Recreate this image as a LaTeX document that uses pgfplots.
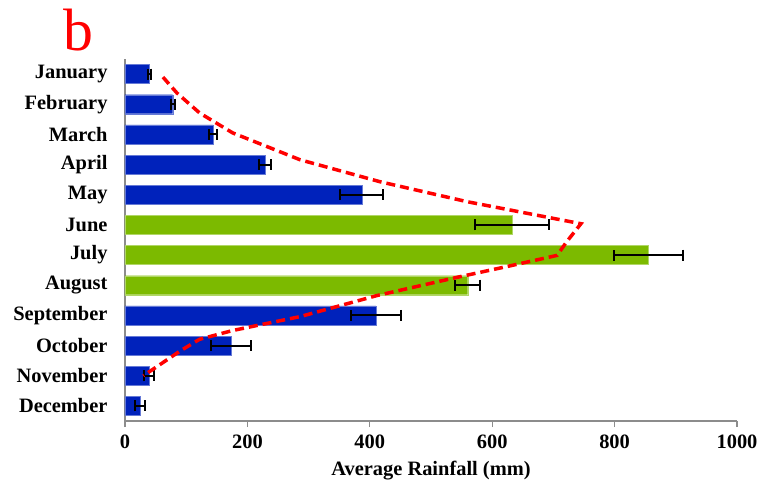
\documentclass[border=0pt]{standalone}
\usepackage{fontspec}
\setmainfont{Liberation Serif}
\usepackage{pgfplots}
\pgfplotsset{compat=1.18}
\definecolor{barblue}{RGB}{0,34,187}
\definecolor{bargreen}{RGB}{124,186,0}
\definecolor{axgray}{RGB}{140,140,140}
\begin{document}
\begin{tikzpicture}
\path[use as bounding box] (-125bp,-80bp) rectangle (640bp,421bp);
\begin{axis}[
  at={(0,0)}, anchor=south west,
  scale only axis, width=612bp, height=362bp,
  xmin=0, xmax=1000, ymin=-0.5, ymax=11.5,
  axis x line*=bottom, axis y line*=left,
  axis line style={axgray, line width=1.2bp},
  xtick={0,200,...,1000},
  ytick={0,...,11},
  yticklabels={December,November,October,September,August,July,June,May,April,March,February,January},
  minor ytick={-0.5,0.5,...,11.5},
  tick align=outside,
  major tick length=6bp, minor tick length=6bp,
  ytick style={draw=none},
  minor tick style={axgray, line width=1.2bp},
  xtick style={axgray, line width=1.2bp},
  tick label style={font=\fontsize{20.5}{22}\selectfont\bfseries},
  /pgf/number format/assume math mode=true,
  /pgf/number format/1000 sep={},
  yticklabel style={xshift=-8bp},
  xticklabel style={yshift=-4bp},
  xlabel={Average Rainfall (mm)},
  xlabel style={font=\fontsize{20.5}{22}\selectfont\bfseries, yshift=-6bp},
  clip=false,
]
\addplot[xbar, bar shift=0pt, bar width=19bp, fill=barblue, draw=barblue!60,
  error bars/.cd, x dir=both, x explicit,
  error bar style={black, line width=2bp},
  error mark options={black, line width=2bp, mark size=5.5bp, rotate=90}]
  table[x=x, y=y, x error=e] {
x y e
40 11 3
78 10 3
144 9 7
229 8 10
387 7 35
410 3 41
173 2 33
39 1 8
25 0 8
};
\addplot[xbar, bar shift=0pt, bar width=19bp, fill=bargreen, draw=bargreen!60,
  error bars/.cd, x dir=both, x explicit,
  error bar style={black, line width=2bp},
  error mark options={black, line width=2bp, mark size=5.5bp, rotate=90}]
  table[x=x, y=y, x error=e] {
x y e
632 6 60
855 5 56
560 4 20
};
\addplot[red, line width=3.5bp, dash pattern=on 9bp off 5bp, no markers] coordinates {
(62,10.9) (85,10.37) (122,9.71) (176,9.05) (286,8.16) (417,7.43) (559,6.77)
(694,6.24) (745,6.04) (722,5.45) (706,4.99) (624,4.62) (542,4.26) (412,3.66)
(286,2.96) (176,2.5) (122,2.21) (90,1.82) (30,1.0)
};
\end{axis}
\node[red, font=\fontsize{60}{64}\selectfont] at (-47bp,391bp) {b};
\end{tikzpicture}
\end{document}
